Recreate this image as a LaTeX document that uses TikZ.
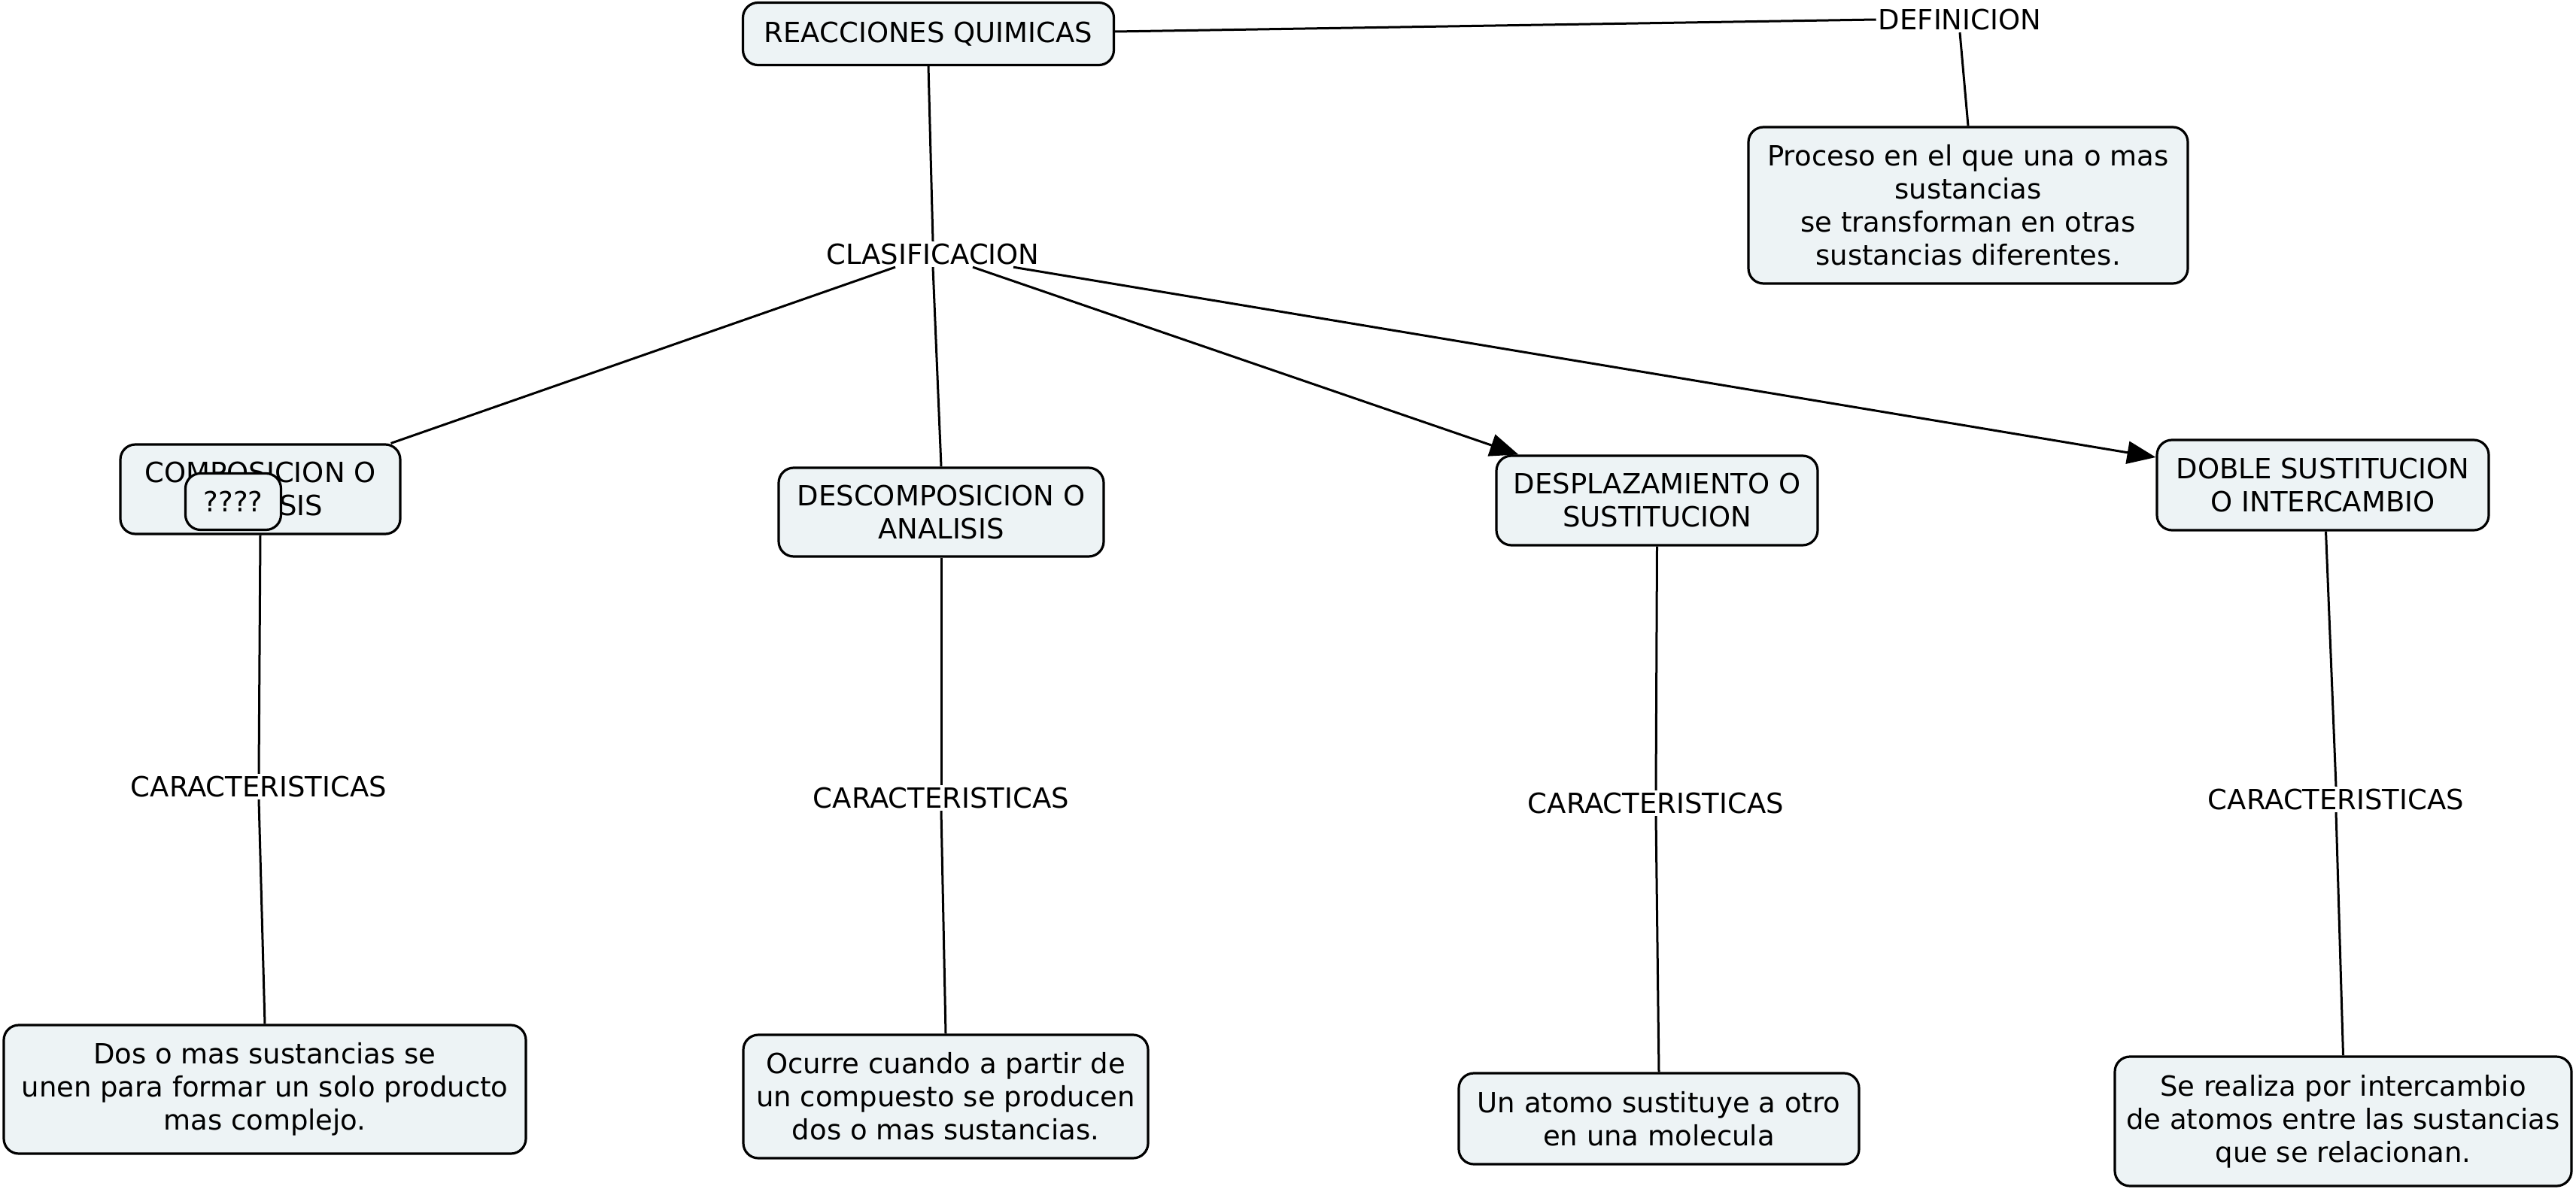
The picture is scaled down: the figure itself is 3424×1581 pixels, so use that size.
\documentclass[tikz,border=0pt]{standalone}
\usepackage{fontspec}
\setmainfont{DejaVu Sans}
\usetikzlibrary{arrows.meta,calc}
\definecolor{boxfill}{RGB}{237,243,245}
\begin{document}
\begin{tikzpicture}[x=1pt,y=-1pt,
  box/.style={draw, line width=3.2pt, fill=boxfill, rounded corners=20pt,
    align=center, inner sep=0pt, font=\fontsize{37}{44}\selectfont},
  lbl/.style={fill=white, inner sep=3pt, font=\fontsize{37}{44}\selectfont},
  conn/.style={line width=3pt},
  arr/.style={conn, -{Triangle[length=38pt,width=30pt]}}]
\fill[white] (0,0) rectangle (3424,1581);
\useasboundingbox (0,0) rectangle (3424,1581);

% top
\node[box, minimum width=493pt, minimum height=83pt] (rq) at (1234,45) {REACCIONES QUIMICAS};
\node[lbl] (def) at (2605,26) {DEFINICION};
\node[box, minimum width=584pt, minimum height=208pt] (defbox) at (2616,273)
  {Proceso en el que una o mas\\ sustancias\\ se transforman en otras\\ sustancias diferentes.};
\node[lbl] (clas) at (1240,338) {CLASIFICACION};

% second row
\node[box, minimum width=372pt, minimum height=119pt] (comp) at (346,650.5) {COMPOSICION O\\ SINTESIS};
\node[box, minimum width=127pt, minimum height=75pt] (q) at (310,667) {????};
\node[box, minimum width=432pt, minimum height=118pt] (desc) at (1251,681) {DESCOMPOSICION O\\ ANALISIS};
\node[box, minimum width=427pt, minimum height=119pt] (desp) at (2202.5,665.5) {DESPLAZAMIENTO O\\ SUSTITUCION};
\node[box, minimum width=441pt, minimum height=120pt] (doble) at (3087.5,645) {DOBLE SUSTITUCION\\ O INTERCAMBIO};

% labels
\node[lbl] (car1) at (344,1046) {CARACTERISTICAS};
\node[lbl] (car2) at (1251,1061) {CARACTERISTICAS};
\node[lbl] (car3) at (2201,1068) {CARACTERISTICAS};
\node[lbl] (car4) at (3105,1063) {CARACTERISTICAS};

% bottom
\node[box, minimum width=694pt, minimum height=171pt] (b1) at (352,1448.5)
  {Dos o mas sustancias se\\ unen para formar un solo producto\\ mas complejo.};
\node[box, minimum width=538pt, minimum height=164pt] (b2) at (1257,1458)
  {Ocurre cuando a partir de\\ un compuesto se producen\\ dos o mas sustancias.};
\node[box, minimum width=532pt, minimum height=121pt] (b3) at (2205,1487.5)
  {Un atomo sustituye a otro\\ en una molecula};
\node[box, minimum width=607pt, minimum height=172pt] (b4) at (3114.5,1491)
  {Se realiza por intercambio\\ de atomos entre las sustancias\\ que se relacionan.};

% connectors
\draw[conn] ($(rq.east)+(0,-3)$) -- (def.west);
\draw[conn] (def.south) -- (defbox.north);
\draw[conn] (rq.south) -- (clas.north);
\draw[conn] ($(clas.south)+(-50,0)$) -- ($(comp.north east)+(-14,0)$);
\draw[conn] (clas.south) -- (desc.north);
\draw[arr] ($(clas.south)+(53,0)$) -- ($(desp.north west)+(31,0)$);
\draw[arr] ($(clas.south)+(107,0)$) -- ($(doble.west)+(0,-37)$);

\draw[conn] (comp.south) -- (car1.north);
\draw[conn] (car1.south) -- (b1.north);
\draw[conn] (desc.south) -- (car2.north);
\draw[conn] (car2.south) -- (b2.north);
\draw[conn] (desp.south) -- (car3.north);
\draw[conn] (car3.south) -- (b3.north);
\draw[conn] ($(doble.south)+(4,0)$) -- (car4.north);
\draw[conn] (car4.south) -- (b4.north);
\end{tikzpicture}
\end{document}
